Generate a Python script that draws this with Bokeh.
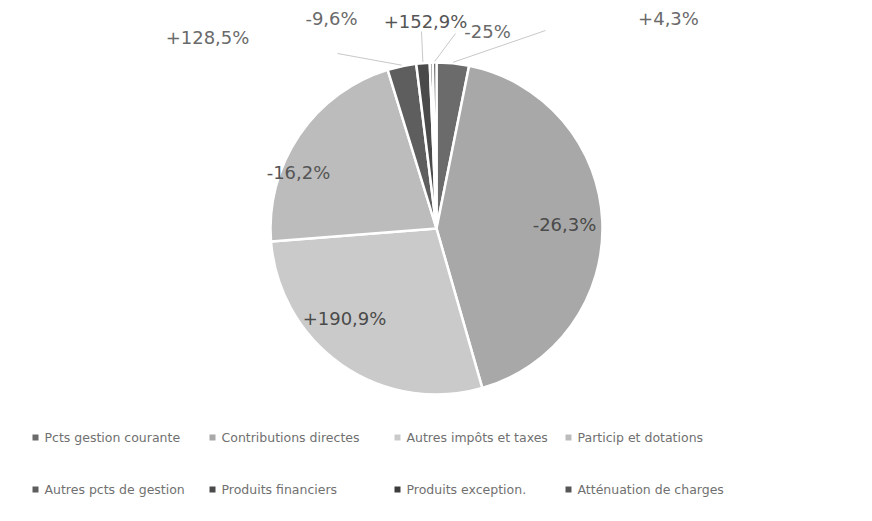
import math
from bokeh.plotting import figure
from bokeh.models import Range1d, ColumnDataSource
from bokeh.core.properties import value
from bokeh.embed import file_html
from bokeh.resources import INLINE

# ---------------- data ----------------
categories = ["Pcts gestion courante", "Contributions directes", "Autres impôts et taxes",
              "Particip et dotations", "Autres pcts de gestion", "Produits financiers",
              "Produits exception.", "Atténuation de charges"]
shares = [3.15, 42.4, 28.2, 21.5, 2.8, 1.3, 0.3, 0.35]          # share of total (%)
variations = ["+4,3%", "-26,3%", "+190,9%", "-16,2%", "+128,5%", "-9,6%", "+152,9%", "-25%"]

# ---------------- style / layout ----------------
colors = ["#6b6b6b", "#a8a8a8", "#cacaca", "#bcbcbc", "#5e5e5e", "#4a4a4a", "#3c3c3c", "#565656"]
W, H = 856, 505

def px(x):
    return x

def py(y):
    return H - y

CX, CY, R = px(436), py(228), 166

# label anchor positions (window pixels), Excel "best fit" placement
label_pos = [(668, 18), (564, 224), (344, 318), (298, 172), (207, 37), (331, 18), (425, 21), (487, 31)]
label_col = ["#6a6a6a", "#4a4a4a", "#4a4a4a", "#555555", "#6a6a6a", "#6a6a6a", "#555555", "#6a6a6a"]
legend_cols = [35, 212, 397, 568]
legend_rows = [437, 489]

# ---------------- figure ----------------
p = figure(width=W, height=H, x_range=Range1d(0, W), y_range=Range1d(0, H),
           toolbar_location=None, output_backend="svg", min_border=0,
           x_axis_type=None, y_axis_type=None)
p.outline_line_color = None
p.grid.visible = False
p.background_fill_color = "white"

total = sum(shares)
starts, ends = [], []
cum = 0.0
for s in shares:
    t0 = 2 * math.pi * cum / total
    cum += s
    t1 = 2 * math.pi * cum / total
    # clockwise from 12 o'clock -> bokeh anticlockwise from +x
    starts.append(math.pi / 2 - t1)
    ends.append(math.pi / 2 - t0)

src = ColumnDataSource(dict(x=[CX] * len(shares), y=[CY] * len(shares),
                            start=starts, end=ends, color=colors, cat=categories))
p.wedge(x="x", y="y", radius=R, start_angle="start", end_angle="end",
        fill_color="color", line_color="white", line_width=2.5, source=src)

# leader lines for the small slices
def edge(i, rr=R + 1):
    mid = (starts[i] + ends[i]) / 2
    return CX + rr * math.cos(mid), CY + rr * math.sin(mid)

lead = []
for i, (sx, sy) in [(4, (337, 53)), (5, (421, 31)), (7, (455, 33)), (0, (545, 30))]:
    ex, ey = edge(i)
    lead.append((px(sx), py(sy), ex, ey))
p.segment(x0=[l[0] for l in lead], y0=[l[1] for l in lead],
          x1=[l[2] for l in lead], y1=[l[3] for l in lead],
          line_color="#c8c8c8", line_width=1)

# data labels
p.text(x=[px(a) for a, b in label_pos], y=[py(b) for a, b in label_pos], text=variations,
       text_align="center", text_baseline="middle", text_font=value("DejaVu Sans"),
       text_font_size="18px", text_color=label_col)

# legend
lx, ly = [], []
for k, cat in enumerate(categories):
    r, c = divmod(k, 4)
    lx.append(px(legend_cols[c]))
    ly.append(py(legend_rows[r]))
p.scatter(x=lx, y=ly, marker="square", size=6, fill_color=colors, line_color=None)
p.text(x=[v + 9 for v in lx], y=ly, text=categories, text_align="left", text_baseline="middle",
       text_font=value("DejaVu Sans"), text_font_size="12.5px", text_color="#707070")

open("out.html", "w").write(file_html(p, INLINE))
